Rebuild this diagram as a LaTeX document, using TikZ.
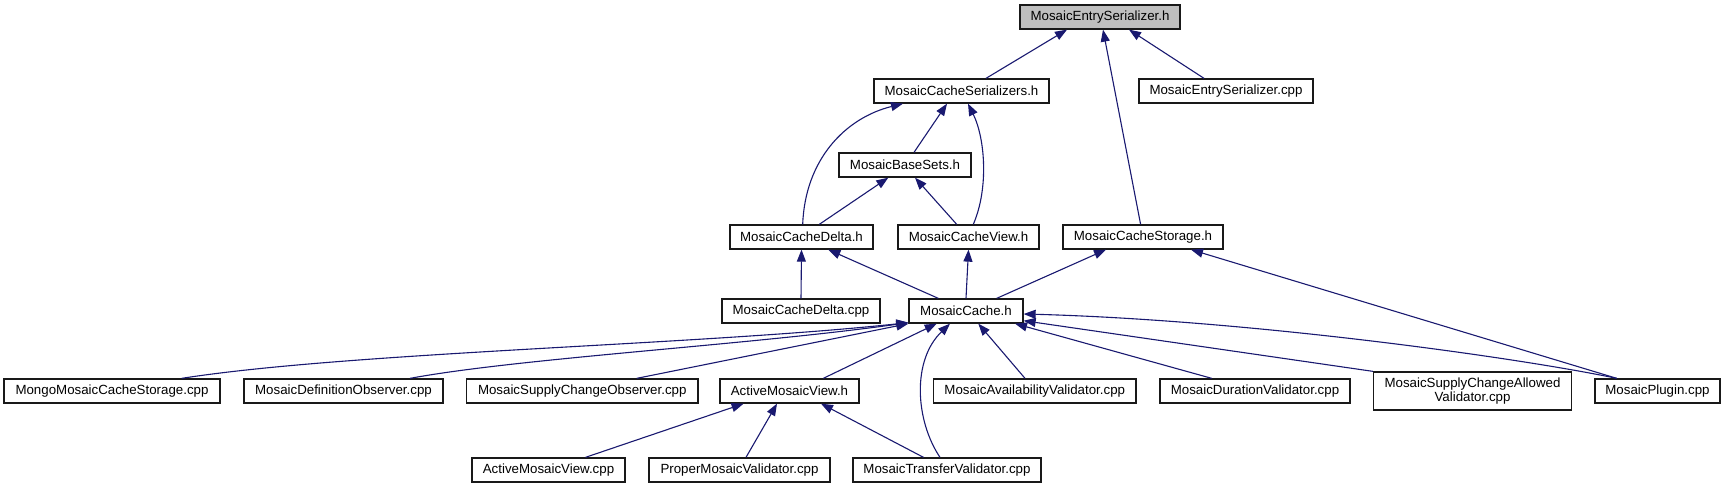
\documentclass[tikz,border=0pt]{standalone}
\usepackage{fontspec}
\setmainfont{Liberation Sans}
\usetikzlibrary{arrows.meta}
\definecolor{edgeblue}{RGB}{25,25,112}
\definecolor{rootgray}{RGB}{191,191,191}
\begin{document}
\begin{tikzpicture}[x=1pt,y=-1pt,
  box/.style={draw=black!90, line width=1.3pt, fill=white, inner sep=0pt,
    minimum height=24pt, font=\fontsize{13.3}{14}\selectfont, align=center},
  dep/.style={draw=edgeblue, line width=1.1pt, -{Triangle[length=12pt,width=9pt]}},
]
\useasboundingbox (0,0) rectangle (1726,489);
% nodes
\node[box, fill=rootgray, minimum width=160pt] (E) at (1100,17) {MosaicEntrySerializer.h};
\node[box, minimum width=175pt] (CS) at (961.5,91) {MosaicCacheSerializers.h};
\node[box, minimum width=174pt] (ECPP) at (1226,91) {MosaicEntrySerializer.cpp};
\node[box, minimum width=132pt] (BS) at (905,165) {MosaicBaseSets.h};
\node[box, minimum width=143pt] (CD) at (801.5,237) {MosaicCacheDelta.h};
\node[box, minimum width=141pt] (CV) at (968.5,237) {MosaicCacheView.h};
\node[box, minimum width=160pt] (CST) at (1143,237) {MosaicCacheStorage.h};
\node[box, minimum width=158pt] (CDCPP) at (801,311) {MosaicCacheDelta.cpp};
\node[box, minimum width=114pt] (MC) at (966,311) {MosaicCache.h};
\node[box, minimum width=216pt] (Mongo) at (112,391) {MongoMosaicCacheStorage.cpp};
\node[box, minimum width=199pt] (DefObs) at (343.5,391) {MosaicDefinitionObserver.cpp};
\node[box, minimum width=231.5pt] (SupObs) at (582.25,391) {MosaicSupplyChangeObserver.cpp};
\node[box, minimum width=139pt] (AMV) at (789.5,391) {ActiveMosaicView.h};
\node[box, minimum width=202.5pt] (Avail) at (1034.75,391) {MosaicAvailabilityValidator.cpp};
\node[box, minimum width=190pt] (Dur) at (1255,391) {MosaicDurationValidator.cpp};
\node[box, minimum width=198pt, minimum height=38pt] (SCAV) at (1472.5,391) {MosaicSupplyChangeAllowed\\Validator.cpp};
\node[box, minimum width=125pt] (Plugin) at (1657.5,391) {MosaicPlugin.cpp};
\node[box, minimum width=153pt] (AMVcpp) at (548.5,470) {ActiveMosaicView.cpp};
\node[box, minimum width=181pt] (PMV) at (739.5,470) {ProperMosaicValidator.cpp};
\node[box, minimum width=188pt] (MTV) at (947,470) {MosaicTransferValidator.cpp};
% edges
\draw[dep] ([xshift=24.5pt]CS.north) -- ([xshift=-33pt]E.south);
\draw[dep] ([xshift=-22pt]ECPP.north) -- ([xshift=29pt]E.south);
\draw[dep] ([xshift=-2.4pt]CST.north) -- ([xshift=3pt]E.south);
\draw[dep] ([xshift=9pt]BS.north) -- ([xshift=-14.5pt]CS.south);
\draw[dep] ([xshift=4.8pt]CV.north) .. controls (989,188) and (985,138) .. ([xshift=6.5pt]CS.south);
\draw[dep] ([xshift=1.2pt]CD.north) .. controls (805,160) and (845,118) .. ([xshift=-58.5pt]CS.south);
\draw[dep] ([xshift=17.8pt]CD.north) -- ([xshift=-16.7pt]BS.south);
\draw[dep] ([xshift=-11.8pt]CV.north) -- ([xshift=10pt]BS.south);
\draw[dep] (CDCPP.north) -- (CD.south);
\draw[dep] ([xshift=-27.7pt]MC.north) -- ([xshift=26.8pt]CD.south);
\draw[dep] (MC.north) -- (CV.south);
\draw[dep] ([xshift=30.7pt]MC.north) -- ([xshift=-37pt]CST.south);
\draw[dep] ([xshift=-40.8pt]Plugin.north) -- ([xshift=48pt]CST.south);
\draw[dep] ([xshift=69.7pt]Mongo.north) .. controls (350,352) and (700,345) .. ([yshift=1pt]MC.south west);
\draw[dep] ([xshift=66.5pt]DefObs.north) .. controls (520,358) and (750,345) .. ([yshift=1pt]MC.south west);
\draw[dep] ([xshift=54.5pt]SupObs.north) -- (MC.south west);
\draw[dep] ([xshift=33.8pt]AMV.north) -- ([xshift=-29.3pt]MC.south);
\draw[dep] ([xshift=-7pt]MTV.north) .. controls (915,420) and (912,360) .. ([xshift=-16pt]MC.south);
\draw[dep] ([xshift=-9.75pt]Avail.north) -- ([xshift=12.3pt]MC.south);
\draw[dep] ([xshift=-43.3pt]Dur.north) -- ([xshift=49pt]MC.south);
\draw[dep] (SCAV.north west) -- ([yshift=-9.7pt]MC.east);
\draw[dep] ([xshift=-40.8pt]Plugin.north) .. controls (1520,358) and (1250,320) .. ([yshift=-3pt]MC.east);
\draw[dep] ([xshift=37pt]AMVcpp.north) -- ([xshift=-45.9pt]AMV.south);
\draw[dep] ([xshift=6.5pt]PMV.north) -- ([xshift=-12.5pt]AMV.south);
\draw[dep] ([xshift=-23.5pt]MTV.north) -- ([xshift=31.5pt]AMV.south);
\end{tikzpicture}
\end{document}
